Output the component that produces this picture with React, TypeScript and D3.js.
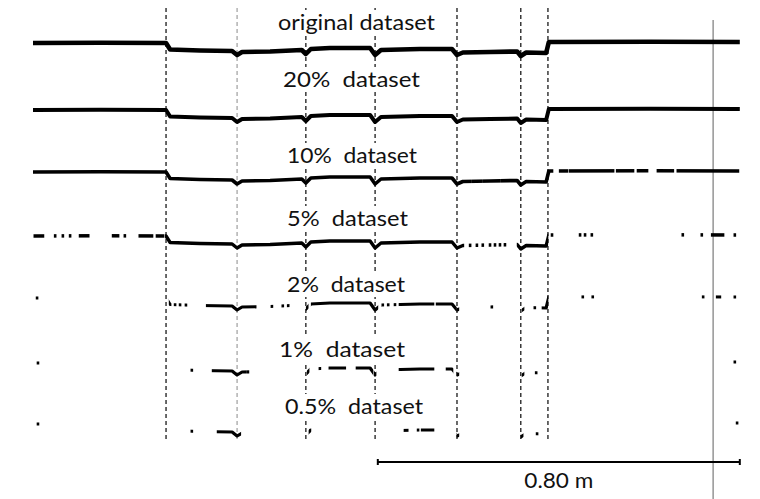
import React from 'react';
import * as d3 from 'd3';

// surveyed profile: distance along the line (m) and height (mm)
const profileX = [0, 0.15, 0.294, 0.303, 0.369, 0.44, 0.451, 0.462, 0.524, 0.594, 0.603, 0.614, 0.656, 0.745, 0.756, 0.769, 0.855, 0.926, 0.937, 0.95, 1.01, 1.07, 1.078, 1.09, 1.134, 1.14, 1.364, 1.562];
const profileZ = [0, 0.5, 0, -13, -15, -16, -24, -18, -17, -14, -22, -12, -10, -10, -24, -14, -12, -12, -24, -19, -18, -17, -26, -19, -20, 2, 2.5, 2];

const datasetNames = ['original dataset', '20%  dataset', '10%  dataset', '5%  dataset', '2%  dataset', '1%  dataset', '0.5%  dataset'];
// vertical offset of each stacked profile (mm)
const datasetOffset = [0, -134, -258, -386, -510, -640, -762];

// stretches of the profile that still hold points, [from, to] in m
const coverOriginal = [[0, 1.562]];
const cover20 = [[0, 1.562]];
const cover10 = [
  [0, 0.95], [0.955, 0.966], [0.972, 0.99], [0.996, 1.03], [1.036, 1.142],
  [1.147, 1.147], [1.165, 1.18], [1.187, 1.282], [1.291, 1.326], [1.337, 1.357],
  [1.381, 1.414], [1.425, 1.558],
];
const cover5 = [
  [0.004, 0.022], [0.049, 0.049], [0.066, 0.066], [0.082, 0.082], [0.104, 0.122],
  [0.177, 0.188], [0.203, 0.203], [0.236, 0.263], [0.274, 0.287], [0.294, 0.95],
  [0.966, 0.966], [0.981, 0.981], [0.994, 0.994], [1.01, 1.01], [1.021, 1.021],
  [1.032, 1.032], [1.043, 1.043], [1.072, 1.136], [1.147, 1.147], [1.209, 1.209],
  [1.22, 1.22], [1.235, 1.235], [1.436, 1.436], [1.478, 1.478], [1.501, 1.525],
  [1.551, 1.551],
];
const cover2 = [
  [0.009, 0.009], [0.303, 0.303], [0.314, 0.314], [0.325, 0.325], [0.338, 0.338],
  [0.385, 0.491], [0.528, 0.528], [0.552, 0.552], [0.564, 0.564], [0.606, 0.606],
  [0.617, 0.76], [0.773, 0.773], [0.785, 0.785], [0.8, 0.8], [0.811, 0.884],
  [0.893, 0.933], [0.939, 0.939], [1.014, 1.014], [1.083, 1.083], [1.109, 1.109],
  [1.127, 1.136], [1.215, 1.215], [1.237, 1.237], [1.481, 1.481], [1.512, 1.518],
  [1.551, 1.551],
];
const cover1 = [
  [0.011, 0.011], [0.351, 0.351], [0.398, 0.469], [0.475, 0.475], [0.608, 0.608],
  [0.634, 0.634], [0.656, 0.689], [0.716, 0.749], [0.756, 0.756], [0.811, 0.884],
  [0.915, 0.926], [0.939, 0.939], [1.083, 1.083], [1.112, 1.112], [1.551, 1.551],
];
const cover05 = [
  [0.011, 0.011], [0.351, 0.351], [0.409, 0.457], [0.612, 0.612], [0.822, 0.827],
  [0.851, 0.851], [0.86, 0.884], [0.939, 0.939], [1.081, 1.081], [1.114, 1.114],
  [1.556, 1.556],
];
const datasetCover = [coverOriginal, cover20, cover10, cover5, cover2, cover1, cover05];

// joints marked with dashed lines (m); the second one is drawn grey
const jointX = [0.294, 0.451, 0.603, 0.756, 0.937, 1.078, 1.138];
const referenceX = 1.503;
const scaleBarFrom = 0.762;
const scaleBarLength = 0.8;
const scaleBarLabel = '0.80 m';

const W = 760;
const H = 499;
const FONT = 'Lato, "DejaVu Sans", sans-serif';

// label layout (px): left edge, baseline, width
const labelLeft = [278, 283, 287, 287, 287, 279, 285];
const labelBase = [30, 87, 163, 226, 292, 357, 414];
const labelWidth = [157, 137, 130, 121, 118, 126, 138];
const lineWidth = [4.6, 4, 3.6, 3.4, 3.2, 3.2, 3.2];

const x = d3.scaleLinear().domain([0, scaleBarLength]).range([33, 395]);
const y = d3.scaleLinear().domain([0, -20]).range([43, 53]);

export default function App() {
  const line = (offset: number) =>
    d3.line<number>()
      .x((_, i) => x(profileX[i]))
      .y((d) => y(d + offset))(profileZ) as string;

  const barY = 462;
  const barX0 = x(scaleBarFrom);
  const barX1 = x(scaleBarFrom + scaleBarLength);

  return (
    <svg width={W} height={H} style={{ position: 'absolute', left: 0, top: 0, background: '#fff' }}>
      <defs>
        {datasetCover.map((cover, i) => (
          <clipPath id={`cover-${i}`} key={i}>
            {cover.map(([a, b], j) => (
              <rect key={j} x={x(a) - 1.3} y={0} width={x(b) - x(a) + 2.6} height={H} />
            ))}
          </clipPath>
        ))}
      </defs>

      {/* joints */}
      {jointX.map((jx, i) => (
        <line key={i} x1={x(jx)} x2={x(jx)} y1={8} y2={441}
          stroke={i === 1 ? '#8a8a8a' : '#1a1a1a'} strokeWidth={i === 1 ? 1 : 1.3}
          strokeDasharray="4 3" />
      ))}
      <line x1={x(referenceX)} x2={x(referenceX)} y1={20} y2={H} stroke="#7a7a7a" strokeWidth={1.2} />

      {/* labels on white boxes */}
      {datasetNames.map((name, i) => (
        <g key={name}>
          <rect x={labelLeft[i] - 4} y={labelBase[i] - 20} width={labelWidth[i] + 8} height={25} fill="#fff" />
          <text x={labelLeft[i]} y={labelBase[i]} fontFamily={FONT} fontSize={21} fill="#111"
            textLength={labelWidth[i]} lengthAdjust="spacingAndGlyphs" style={{ whiteSpace: 'pre' }}>
            {name}
          </text>
        </g>
      ))}

      {/* profiles */}
      {datasetOffset.map((off, i) => (
        <path key={i} d={line(off)} fill="none" stroke="#000" strokeWidth={lineWidth[i]}
          strokeLinejoin="round" clipPath={`url(#cover-${i})`} />
      ))}

      {/* scale bar */}
      <line x1={barX0} x2={barX1} y1={barY} y2={barY} stroke="#000" strokeWidth={2} />
      <line x1={barX0} x2={barX0} y1={barY - 3} y2={barY + 3} stroke="#000" strokeWidth={2} />
      <line x1={barX1} x2={barX1} y1={barY - 3} y2={barY + 3} stroke="#000" strokeWidth={2} />
      <text x={(barX0 + barX1) / 2} y={488} textAnchor="middle" fontFamily={FONT} fontSize={21} fill="#111"
        textLength={69} lengthAdjust="spacingAndGlyphs">
        {scaleBarLabel}
      </text>
    </svg>
  );
}
